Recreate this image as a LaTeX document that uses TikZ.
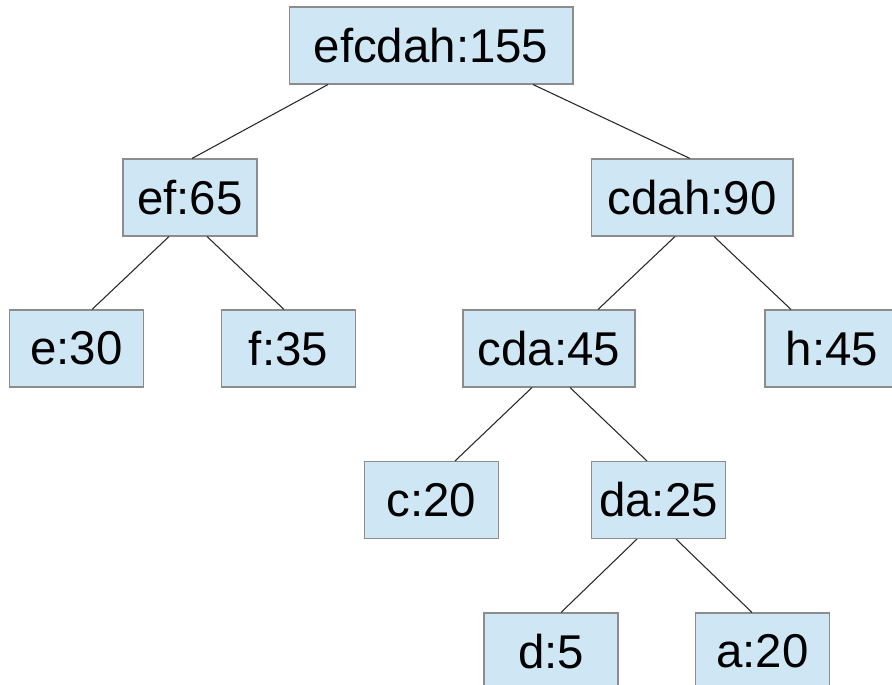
\documentclass[tikz,border=0pt]{standalone}
\usepackage{fontspec}
\setmainfont{Liberation Sans}
\usepackage {tikz}
\usetikzlibrary {calc}

\definecolor{boxfill}{RGB}{207,231,245}
\definecolor{boxline}{RGB}{140,140,140}

\begin{document}
\begin{tikzpicture}[x=0.02cm, y=-0.02cm,
                    tree node/.style={rectangle,draw=boxline,fill=boxfill,line width=0.6pt,
                      inner sep=0pt,minimum height=1.54cm,
                      font=\fontsize{27}{32}\selectfont},
                    leaf/.style={tree node,minimum width=2.68cm}]

  \path[use as bounding box, clip] (0,0) rectangle (892,685);

  \node[tree node, minimum width=5.68cm] (efcdah) at (431,45.5) {efcdah:155};
  \node[tree node, minimum width=2.68cm] (ef) at (190,197.5) {ef:65};
  \node[tree node, minimum width=4.04cm] (cdah) at (692,197.5) {cdah:90};
  \node[leaf] (e) at (76.5,348.5) {e:30};
  \node[leaf] (f) at (288.5,348.5) {f:35};
  \node[tree node, minimum width=3.44cm] (cda) at (549,348.5) {cda:45};
  \node[leaf] (h) at (832,348.5) {h:45};
  \node[leaf] (c) at (431.5,500) {c:20};
  \node[leaf] (da) at (658.5,500) {da:25};
  \node[leaf] (d) at (551,651.5) {d:5};
  \node[leaf] (a) at (762.5,651.5) {a:20};

  \path[draw=black!85, line width=0.6pt]
    ($(efcdah.south)+(-103,0)$) edge ($(ef.north)+(2,0)$)
    ($(efcdah.south)+(102,0)$) edge ($(cdah.north)+(-2,0)$)
    ($(ef.south)+(-21,0)$) edge ($(e.north)+(15.5,0)$)
    ($(ef.south)+(17,0)$) edge ($(f.north)+(-4.5,0)$)
    ($(cdah.south)+(-17,0)$) edge ($(cda.north)+(49,0)$)
    ($(cdah.south)+(22,0)$) edge ($(h.north)+(-41,0)$)
    ($(cda.south)+(-17,0)$) edge ($(c.north)+(23.5,0)$)
    ($(cda.south)+(21,0)$) edge ($(da.north)+(-11.5,0)$)
    ($(da.south)+(-21.5,0)$) edge ($(d.north)+(10,0)$)
    ($(da.south)+(17.5,0)$) edge ($(a.north)+(-10.5,0)$)
;
\end{tikzpicture}
\end{document}
